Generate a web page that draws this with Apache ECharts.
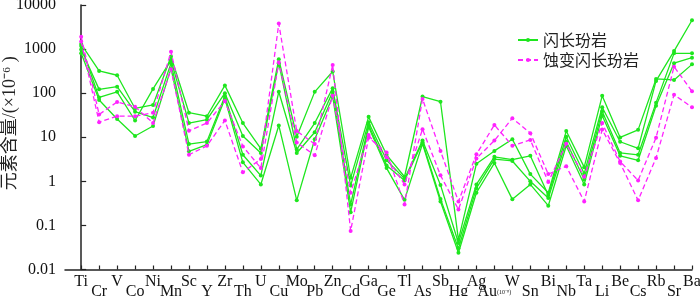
<!DOCTYPE html>
<html>
<head>
<meta charset="utf-8">
<script src="https://cdn.jsdelivr.net/npm/echarts@6/dist/echarts.min.js"></script>
<style>
html,body{margin:0;padding:0;background:#fff;}
#chart{width:700px;height:296px;}
</style>
</head>
<body>
<div id="chart"></div>
<script>
const categories = ['Ti','Cr','V','Co','Ni','Mn','Sc','Y','Zr','Th','U','Cu','Mo','Pb','Zn','Cd','Ga','Ge','Tl','As','Sb','Hg','Ag','Au','W','Sn','Bi','Nb','Ta','Li','Be','Cs','Rb','Sr','Ba'];
const yTicks = [0.01, 0.1, 1, 10, 100, 1000, 10000];

// 闪长玢岩 (diorite porphyrite)
const dioriteA = [1300,320,255,45,54,680,36,30,150,21,5.5,590,10.3,107,310,1.2,29,4,1.27,84,64,0.047,2.5,4.9,9,1.46,0.55,13.8,2.1,87,9.9,14.7,210,200,450];
const dioriteB = [1170,80,107,24,125,560,21,25,100,10.7,4.4,480,5.3,21,130,0.8,22,3,1.15,8.4,0.83,0.04,0.85,3.6,3.1,3.8,0.49,10.3,1.5,48,7.9,5.6,190,900,4500];
const dioriteC = [980,122,140,38,28,480,7,8,85,4,1.35,108,4.4,13,107,0.3,19,2.3,1.05,7.7,0.4,0.03,0.7,3.2,2.9,1.0,0.42,8,1.1,39,4.4,4,61,800,800];
const dioriteD = [800,70,26,10.7,18,365,4.8,6.8,75,2.7,0.85,18.5,0.37,9,84,0.2,17,2.0,0.38,7.1,0.35,0.024,0.55,2.6,0.39,0.85,0.28,6.4,0.85,31,3.8,3,52,480,640];
// 蚀变闪长玢岩 (altered diorite porphyrite)
const alteredA = [1900,33,63,49,21,350,4,6.4,24,1.6,3.2,3800,13.8,7,435,0.075,9.8,4.5,0.3,74,4.9,0.35,4.1,19,6.4,8.7,0.97,7.1,1.27,21,2.8,1.05,9.8,400,110];
const alteredB = [1480,22,30,30,36,870,14,21,66,6.2,2,500,7.6,3.9,87,0.55,11.2,3.5,0.85,15.2,1.37,0.23,3.3,8.4,27,12.4,1.46,2.2,0.35,15,2.6,0.37,3.4,92,48];

const NAME_G = '闪长玢岩';
const NAME_M = '蚀变闪长玢岩';
const GREEN = '#1ee61e';
const MAGENTA = '#ff22ff';
const FONT = "'Liberation Serif', 'Times New Roman', 'Noto Sans CJK SC', serif";

function pairs(arr){ return arr.map((v,i)=>[i,v]); }
function mk(name, arr, color, dashed){
  return {
    name: name, type: 'line', data: pairs(arr),
    symbol: 'circle', symbolSize: 4, showSymbol: true,
    lineStyle: {color: color, width: 1.3, type: dashed ? [5,3] : 'solid'},
    itemStyle: {color: color},
    emphasis: {disabled: true},
    animation: false, z: dashed ? 3 : 2
  };
}

const idx = categories.map((_,i)=>i);
const chart = echarts.init(document.getElementById('chart'), null, {renderer:'canvas'});
chart.setOption({
  backgroundColor: '#fff',
  animation: false,
  grid: {left: 65, right: 8, top: 5, bottom: 26.5, containLabel: false, outerBoundsMode: 'none'},
  legend: {
    data: [NAME_G, NAME_M], orient: 'vertical', left: 512, top: 27,
    itemWidth: 20, itemHeight: 5, itemGap: 4,
    textStyle: {fontSize: 16, color: '#222', fontFamily: "'Noto Sans CJK SC', sans-serif"}
  },
  xAxis: {
    type: 'value', min: -0.9, max: 34,
    axisLine: {show: true, lineStyle: {color: '#222', width: 1.5}},
    axisTick: {show: true, inside: true, length: 4, customValues: idx, lineStyle: {color:'#222', width: 1.2}},
    splitLine: {show: false},
    axisLabel: {
      customValues: idx, margin: 7.5, lineHeight: 10, color: '#111',
      fontFamily: FONT, fontSize: 16,
      formatter: function(v){
        const i = Math.round(v);
        const name = categories[i];
        if (name === undefined) return '';
        let body = '{n|' + name + '}';
        if (name === 'Au') body = '{n|Au}{s|(10⁻⁹)}';
        return (i % 2 === 1 ? '\n' : '') + body;
      },
      rich: {
        n: {fontFamily: FONT, fontSize: 16, lineHeight: 10, color: '#111'},
        s: {fontFamily: FONT, fontSize: 6, lineHeight: 10, color: '#111'}
      }
    }
  },
  yAxis: {
    type: 'log', logBase: 10, min: 0.01, max: 10000,
    name: '{sp| }元素含量/(×10⁻⁶ )', nameLocation: 'middle', nameRotate: 90, nameGap: 46,
    nameMoveOverlap: false,
    nameTextStyle: {
      fontFamily: "'Liberation Serif', 'Noto Sans CJK SC', serif", fontSize: 18, color: '#222',
      rich: {sp: {width: 28, fontSize: 18}}
    },
    axisLine: {show: true, lineStyle: {color: '#222', width: 1.5}},
    axisTick: {show: true, inside: true, length: 5, lineStyle: {color:'#222', width: 1.2}},
    minorTick: {show: false},
    splitLine: {show: false},
    axisLabel: {
      margin: 9, color: '#111', fontFamily: FONT, fontSize: 16,
      formatter: function(v){
        let best = yTicks[0];
        yTicks.forEach(t => { if (Math.abs(Math.log10(t) - Math.log10(v)) < Math.abs(Math.log10(best) - Math.log10(v))) best = t; });
        return String(best);
      }
    }
  },
  series: [
    mk(NAME_G, dioriteA, GREEN, false),
    mk(NAME_G, dioriteB, GREEN, false),
    mk(NAME_G, dioriteC, GREEN, false),
    mk(NAME_G, dioriteD, GREEN, false),
    mk(NAME_M, alteredA, MAGENTA, true),
    mk(NAME_M, alteredB, MAGENTA, true)
  ]
});
</script>
</body>
</html>
